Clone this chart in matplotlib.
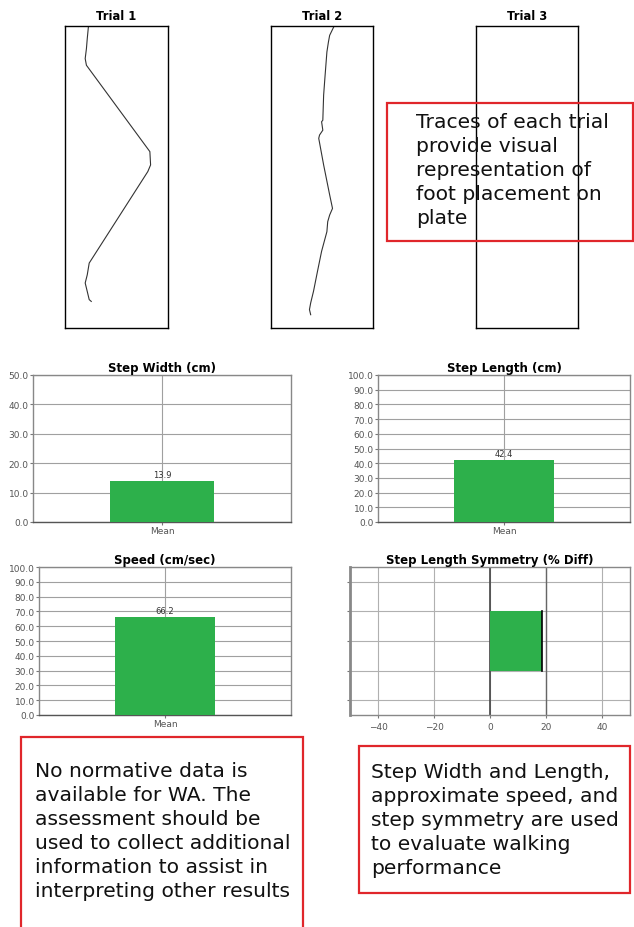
import matplotlib
matplotlib.use("Agg")
import matplotlib.pyplot as plt
from matplotlib.patches import Rectangle

W, H = 634, 928

# foot traces, fraction of plate width (x) and length from top (y)
trial_names = ["Trial 1", "Trial 2", "Trial 3"]
trial1_x = [0.227, 0.216, 0.208, 0.196, 0.208, 0.824, 0.831, 0.804, 0.235, 0.216, 0.196, 0.216, 0.235, 0.255]
trial1_y = [0.003, 0.042, 0.075, 0.108, 0.130, 0.416, 0.460, 0.482, 0.785, 0.824, 0.851, 0.879, 0.906, 0.912]
trial2_x = [0.615, 0.575, 0.563, 0.548, 0.528, 0.516, 0.508, 0.496, 0.508, 0.476, 0.468, 0.516, 0.575,
            0.603, 0.575, 0.556, 0.548, 0.496, 0.456, 0.417, 0.389, 0.377, 0.389]
trial2_y = [0.003, 0.031, 0.053, 0.086, 0.174, 0.229, 0.312, 0.317, 0.345, 0.361, 0.372, 0.460, 0.559,
            0.604, 0.626, 0.648, 0.681, 0.746, 0.812, 0.878, 0.917, 0.939, 0.956]

# bar results
step_width = 13.9
step_length = 42.4
speed = 66.2
symmetry = 18.6
bar_label = "Mean"

green = "#2db04b"
red = "#e0262b"


def px(l, t, r, b):
    return [l / W, 1 - b / H, (r - l) / W, (b - t) / H]


fig = plt.figure(figsize=(W / 100, H / 100), dpi=100)

# trial plates
plates = [(65, 168), (271, 373), (476, 578)]
traces = [(trial1_x, trial1_y), (trial2_x, trial2_y), (None, None)]
for (l, r), name, (tx, ty) in zip(plates, trial_names, traces):
    ax = fig.add_axes(px(l, 27, r, 329))
    if tx is not None:
        ax.plot(tx, ty, color="#333333", lw=0.8)
    ax.set_xlim(0, 1)
    ax.set_ylim(1, 0)
    ax.set_xticks([])
    ax.set_yticks([])
    for s in ax.spines.values():
        s.set_linewidth(1.0)
        s.set_color("black")
    ax.set_title(name, fontsize=8.3, fontweight="bold", pad=5)


def bar_chart(rect, title, value, top):
    ax = fig.add_axes(px(*rect))
    ax.bar([0], [value], width=0.4, color=green, zorder=3)
    ax.text(0, value + top * 0.012, f"{value:.1f}", ha="center", va="bottom",
            fontsize=6, color="#333333", zorder=4)
    ax.set_xlim(-0.5, 0.5)
    ax.set_ylim(0, top)
    ax.set_yticks([v for v in range(0, top + 1, 10)])
    ax.set_yticklabels([f"{v:.1f}" for v in range(0, top + 1, 10)])
    ax.set_xticks([0])
    ax.set_xticklabels([bar_label])
    ax.tick_params(axis="both", labelsize=6.5, labelcolor="#555555", length=2,
                   pad=1, color="#777777")
    ax.grid(True, color="#a0a0a0", lw=0.8, zorder=0)
    for s in ax.spines.values():
        s.set_color("#888888")
        s.set_linewidth(1.0)
    ax.spines["bottom"].set_color("#555555")
    ax.set_title(title, fontsize=8.5, fontweight="bold", pad=3)
    return ax


bar_chart((33, 376, 291, 523), "Step Width (cm)", step_width, 50)
bar_chart((378, 376, 630, 523), "Step Length (cm)", step_length, 100)
bar_chart((39, 568, 291, 716), "Speed (cm/sec)", speed, 100)

# symmetry chart
ax = fig.add_axes(px(350, 568, 630, 716))
ax.barh([0], [symmetry], height=0.4, color=green, edgecolor="none", zorder=3)
ax.plot([symmetry, symmetry], [-0.2, 0.2], color="black", lw=1.2, zorder=4)
ax.set_xlim(-50, 50)
ax.set_ylim(-0.5, 0.5)
ax.set_xticks([-40, -20, 0, 20, 40])
ax.set_yticks([-0.4, -0.2, 0, 0.2, 0.4])
ax.set_yticklabels([])
ax.tick_params(axis="both", labelsize=6.5, labelcolor="#555555", length=2,
               pad=3, color="#777777")
ax.grid(True, color="#b0b0b0", lw=0.8, zorder=0)
ax.axvline(0, color="#444444", lw=1.2, zorder=2)
ax.axvline(20, color="#666666", lw=1.0, zorder=2)
for s in ax.spines.values():
    s.set_color("#888888")
    s.set_linewidth(1.0)
ax.spines["left"].set_linewidth(2.0)
ax.set_title("Step Length Symmetry (% Diff)", fontsize=8.5, fontweight="bold", pad=3)

# annotation boxes
boxes = [
    ((387, 104, 633, 242), (416, 113),
     "Traces of each trial\nprovide visual\nrepresentation of\nfoot placement on\nplate"),
    ((21, 738, 303, 940), (35, 762),
     "No normative data is\navailable for WA. The\nassessment should be\nused to collect additional\ninformation to assist in\ninterpreting other results"),
    ((359, 747, 630, 894), (371, 763),
     "Step Width and Length,\napproximate speed, and\nstep symmetry are used\nto evaluate walking\nperformance"),
]
for (l, t, r, b), (tx, ty), txt in boxes:
    fig.patches.append(Rectangle((l / W, 1 - b / H), (r - l) / W, (b - t) / H,
                                 transform=fig.transFigure, fill=False,
                                 edgecolor=red, lw=1.6))
    fig.text(tx / W, 1 - ty / H, txt, ha="left", va="top", fontsize=14.6,
             color="#111111", linespacing=1.33)

fig.savefig("out.png", dpi=100)
